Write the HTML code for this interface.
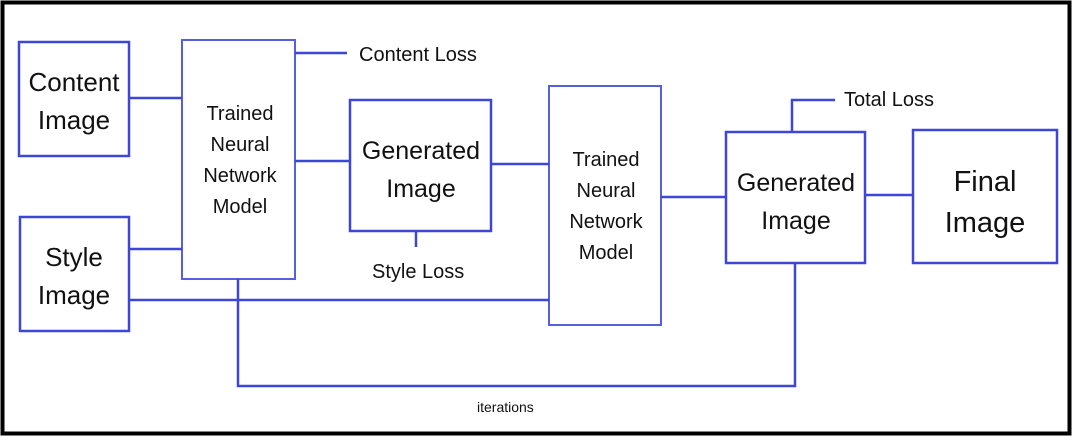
<!DOCTYPE html>
<html><head><style>
body{margin:0;background:#fff;}
svg text{font-family:"Liberation Sans",sans-serif;fill:#111;}
</style></head><body>
<svg width="1073" height="437" viewBox="0 0 1073 437" xmlns="http://www.w3.org/2000/svg">
<rect x="2.5" y="2.5" width="1067" height="431" fill="#fff" stroke="#000" stroke-width="4"/>
<g fill="none" stroke="#3d46d6" stroke-width="2.5">
<rect x="19" y="42" width="110" height="114"/>
<rect x="20" y="217" width="109" height="114"/>
<rect x="182" y="40" width="113" height="239" stroke="#5560e0" stroke-width="2"/>
<rect x="350" y="100" width="141" height="131"/>
<rect x="549" y="86" width="112" height="239" stroke="#5560e0" stroke-width="2"/>
<rect x="726" y="132" width="139" height="131"/>
<rect x="913" y="130" width="144" height="133"/>
<path d="M129 98H182M129 249H182M295 53H347M295 161H350M416 231V247M491 164H549M129 300H549M238 279V386H795V263M661 197H726M865 195H913M792 132V100H835"/>
</g>
<g text-anchor="middle">
<text x="74" y="91" font-size="26">Content</text>
<text x="74" y="129" font-size="26">Image</text>
<text x="74" y="266" font-size="26">Style</text>
<text x="74" y="304" font-size="26">Image</text>
<text x="240" y="120" font-size="20">Trained</text>
<text x="240" y="151" font-size="20">Neural</text>
<text x="240" y="182" font-size="20">Network</text>
<text x="240" y="213" font-size="20">Model</text>
<text x="421" y="159" font-size="25">Generated</text>
<text x="421" y="197" font-size="25">Image</text>
<text x="606" y="166" font-size="20">Trained</text>
<text x="606" y="197" font-size="20">Neural</text>
<text x="606" y="228" font-size="20">Network</text>
<text x="606" y="259" font-size="20">Model</text>
<text x="796" y="191" font-size="25">Generated</text>
<text x="796" y="229" font-size="25">Image</text>
<text x="985" y="191" font-size="29">Final</text>
<text x="985" y="232" font-size="29">Image</text>
</g>
<text x="359" y="61" font-size="20">Content Loss</text>
<text x="372" y="278" font-size="20">Style Loss</text>
<text x="844" y="106" font-size="20">Total Loss</text>
<text x="477" y="412" font-size="14">iterations</text>
</svg>
</body></html>
